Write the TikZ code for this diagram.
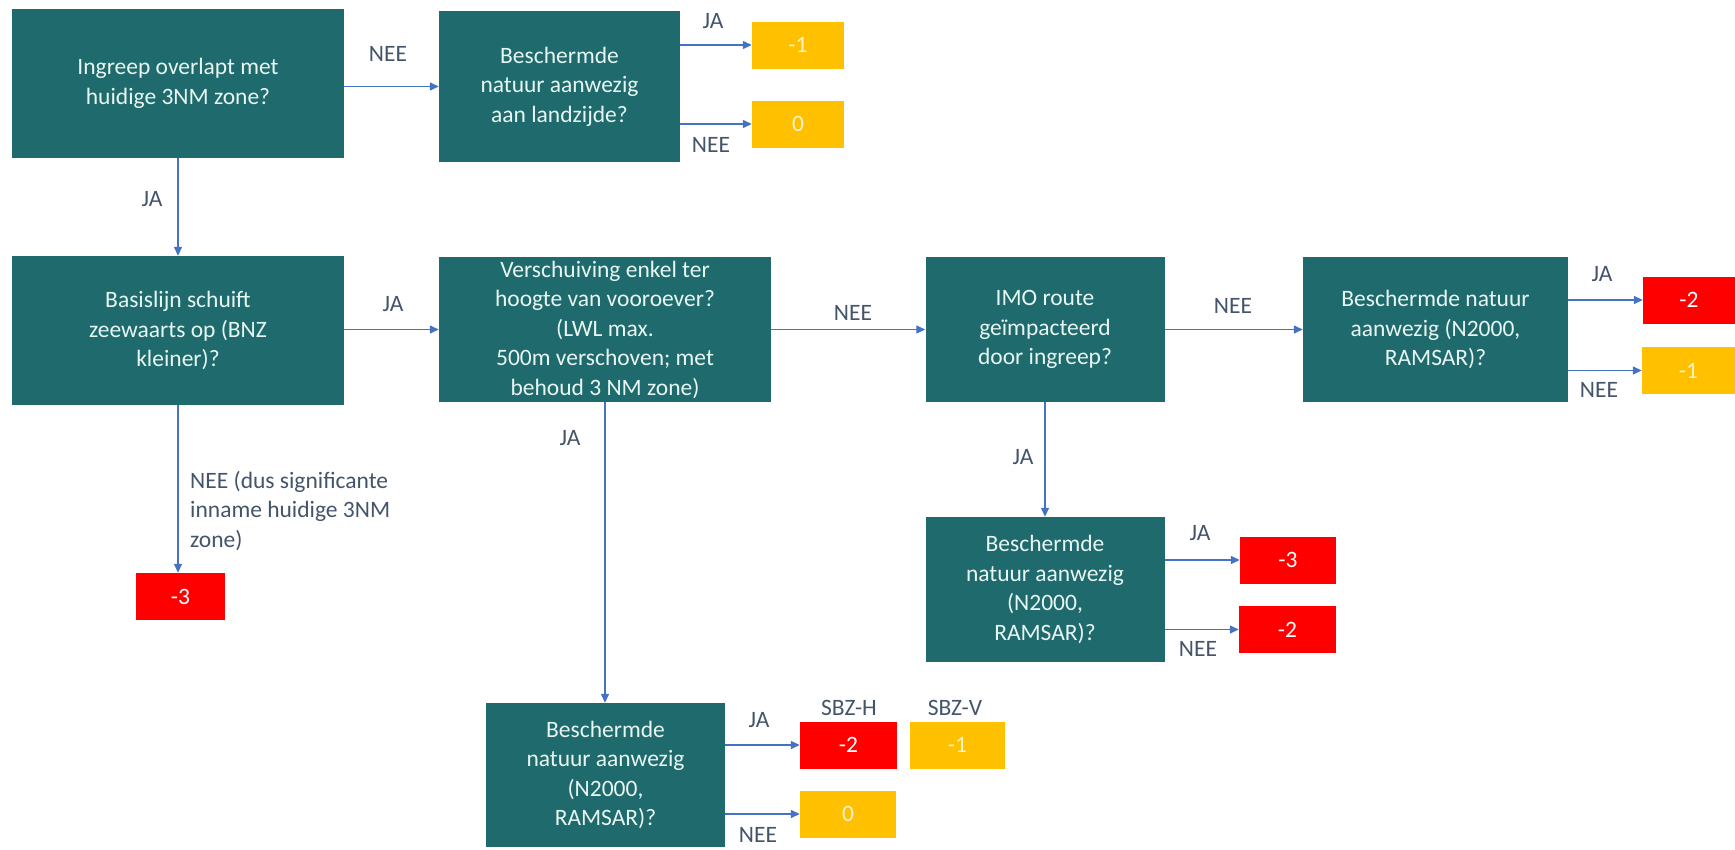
\documentclass[tikz,border=0pt]{standalone}
\usepackage{fontspec}
\setmainfont{Carlito}
\usetikzlibrary{arrows.meta}
\definecolor{teal1}{HTML}{1F6A6C}
\definecolor{boxtext}{HTML}{E8F6F3}
\definecolor{flow}{HTML}{4472C4}
\definecolor{lbl}{HTML}{44546A}
\definecolor{amber}{HTML}{FFC000}
\definecolor{alarm}{HTML}{FF0000}
\definecolor{ambertext}{HTML}{FFF3CF}
\begin{document}
\begin{tikzpicture}[x=1pt,y=-1pt,
  font=\fontsize{23.5}{29.5}\selectfont,
  question/.style={fill=teal1,text=boxtext,inner sep=0pt,align=center},
  score/.style={inner sep=0pt,minimum width=92,minimum height=47},
  low/.style={score,fill=amber,text=ambertext},
  high/.style={score,fill=alarm,text=white},
  flowarrow/.style={draw=flow,line width=1.3pt,-{Triangle[length=9pt,width=8pt]}},
  answer/.style={text=lbl,inner sep=0pt}]
\useasboundingbox (0,0) rectangle (1735,849);

% decision boxes
\node[question,minimum width=332,minimum height=149] (qa) at (178,83.5)
  {Ingreep overlapt met\\huidige 3NM zone?};
\node[question,minimum width=241,minimum height=151] (qb) at (559.5,86.5)
  {Beschermde\\natuur aanwezig\\aan landzijde?};
\node[question,minimum width=332,minimum height=149] (qc) at (178,330.5)
  {Basislijn schuift\\zeewaarts op (BNZ\\kleiner)?};
\node[question,minimum width=332,minimum height=145] (qd) at (605,329.5)
  {Verschuiving enkel ter\\hoogte van vooroever?\\(LWL max.\\500m verschoven; met\\behoud 3 NM zone)};
\node[question,minimum width=239,minimum height=145] (qe) at (1045,329.5)
  {IMO route\\geïmpacteerd\\door ingreep?};
\node[question,minimum width=265,minimum height=145] (qf) at (1435.5,329.5)
  {Beschermde natuur\\aanwezig (N2000,\\RAMSAR)?};
\node[question,minimum width=239,minimum height=144] (qg) at (605.5,775)
  {Beschermde\\natuur aanwezig\\(N2000,\\RAMSAR)?};
\node[question,minimum width=239,minimum height=145] (qh) at (1045,589.5)
  {Beschermde\\natuur aanwezig\\(N2000,\\RAMSAR)?};

% score boxes
\node[low] (sb1) at (798,45) {-1};
\node[low] (sb0) at (798,124) {0};
\node[high,minimum width=92] (sf2) at (1689,300) {-2};
\node[low,minimum width=93] (sf1) at (1688.5,370.5) {-1};
\node[high,minimum width=89] (sc3) at (180.5,596.5) {-3};
\node[high,minimum width=97] (sg2) at (848.5,745) {-2};
\node[low,minimum width=95] (sg1) at (957.5,745) {-1};
\node[low,minimum width=96] (sg0) at (848,814) {0};
\node[high,minimum width=96] (sh3) at (1288,560) {-3};
\node[high,minimum width=97] (sh2) at (1287.5,629.5) {-2};

% connectors
\draw[flowarrow] (qa.east |- qb.west) -- (qb.west);
\draw[flowarrow] (qb.east |- sb1.west) -- (sb1.west);
\draw[flowarrow] (qb.east |- sb0.west) -- (sb0.west);
\draw[flowarrow] (qa.south) -- (qc.north);
\draw[flowarrow] (qc.east |- qd.west) -- (qd.west);
\draw[flowarrow] (qd) -- (qe);
\draw[flowarrow] (qe) -- (qf);
\draw[flowarrow] (qf.east |- sf2.west) -- (sf2.west);
\draw[flowarrow] (qf.east |- sf1.west) -- (sf1.west);
\draw[flowarrow] (qc.south) -- (qc.south |- sc3.north);
\draw[flowarrow] (qd.south) -- (qd.south |- qg.north);
\draw[flowarrow] (qg.east |- sg2.west) -- (sg2.west);
\draw[flowarrow] (qg.east |- sg0.west) -- (sg0.west);
\draw[flowarrow] (qe.south) -- (qh.north);
\draw[flowarrow] (qh.east |- sh3.west) -- (sh3.west);
\draw[flowarrow] (qh.east |- sh2.west) -- (sh2.west);

% answer labels
\node[answer] (la1) at (388,54) {NEE};
\node[answer] (la2) at (713,21) {JA};
\node[answer] (la3) at (711,145) {NEE};
\node[answer] (la4) at (152,199) {JA};
\node[answer] (la5) at (393,304) {JA};
\node[answer] (la6) at (853,313) {NEE};
\node[answer] (la7) at (1233,306) {NEE};
\node[answer] (la8) at (1602,274) {JA};
\node[answer] (la9) at (1599,390) {NEE};
\node[answer,anchor=west,align=left] (la10) at (190,511)
  {NEE (dus significante\\inname huidige 3NM\\zone)};
\node[answer] (la11) at (570,438) {JA};
\node[answer] (la12) at (759,720) {JA};
\node[answer] (la13) at (758,835) {NEE};
\node[answer] (la14) at (1023,457) {JA};
\node[answer] (la15) at (1200,533) {JA};
\node[answer] (la16) at (1198,649) {NEE};
\node[answer] (lsh) at (849,708) {SBZ-H};
\node[answer] (lsv) at (955,708) {SBZ-V};
\end{tikzpicture}
\end{document}
